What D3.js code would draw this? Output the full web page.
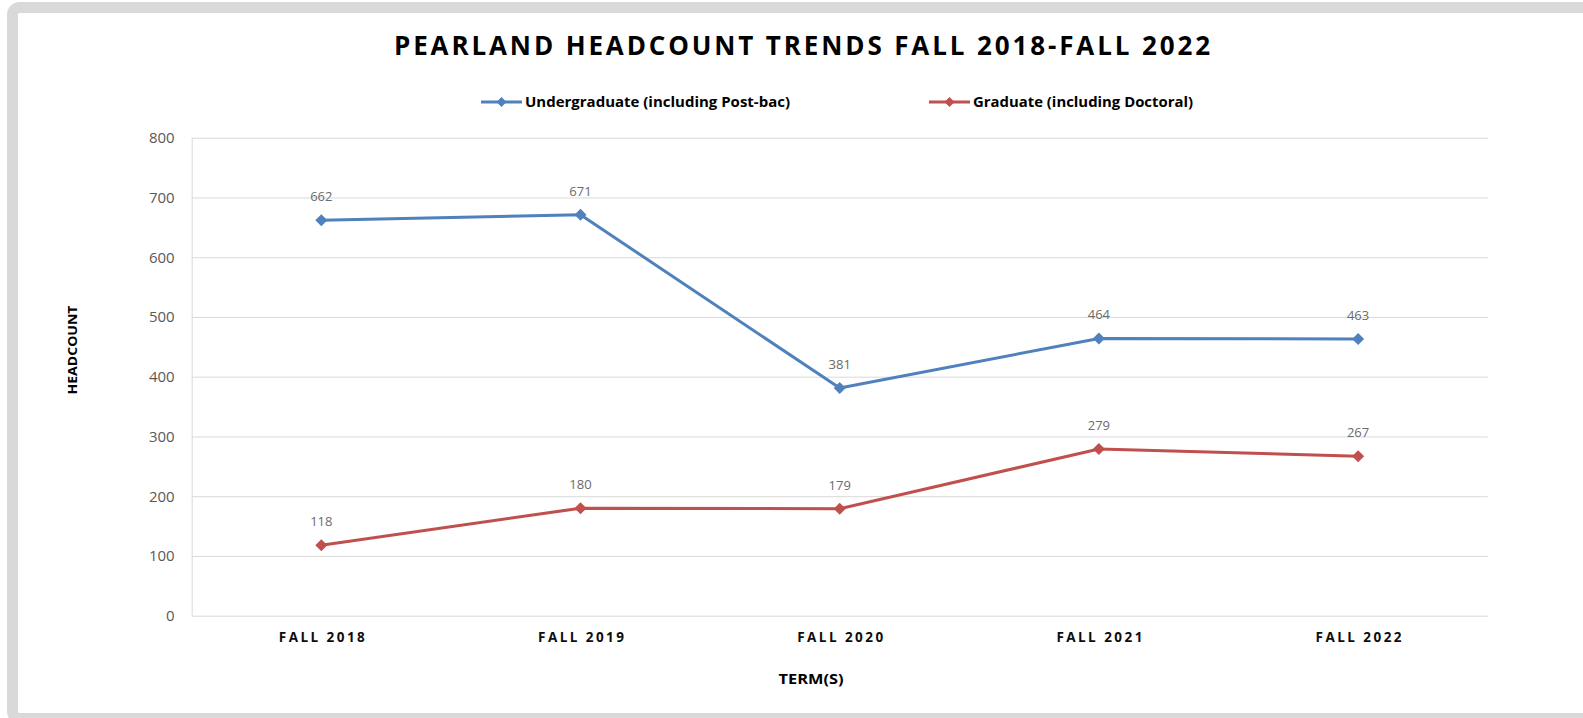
<!DOCTYPE html>
<html>
<head>
<meta charset="utf-8">
<script src="https://cdn.jsdelivr.net/npm/d3@7"></script>
<style>
  html, body { margin: 0; padding: 0; background: #ffffff; }
  svg { display: block; }
</style>
</head>
<body>
<svg id="chart" width="1583" height="718"></svg>
<script>
// chart values
var terms = ["FALL 2018", "FALL 2019", "FALL 2020", "FALL 2021", "FALL 2022"];
var undergrad = [662, 671, 381, 464, 463];
var graduate = [118, 180, 179, 279, 267];
var seriesNames = ["Undergraduate (including Post-bac)", "Graduate (including Doctoral)"];
var seriesColors = ["#4f81bd", "#c0504d"];
var yTicks = [0, 100, 200, 300, 400, 500, 600, 700, 800];

var svg = d3.select("#chart");
var font = "'Open Sans', 'DejaVu Sans', sans-serif";

// outer frame
svg.append("rect")
    .attr("x", 12.5)
    .attr("y", 7.5)
    .attr("width", 1620)
    .attr("height", 711)
    .attr("rx", 7)
    .attr("ry", 7)
    .attr("fill", "#ffffff")
    .attr("stroke", "#d9d9d9")
    .attr("stroke-width", 11);

var plot = {left: 191.7, right: 1487.7, top: 137.7, bottom: 615.7};

var x = d3.scalePoint()
    .domain(terms)
    .range([plot.left, plot.right])
    .padding(0.5);

var y = d3.scaleLinear()
    .domain([0, 800])
    .range([plot.bottom, plot.top]);

// gridlines
var yAxis = d3.axisLeft(y)
    .tickValues(yTicks)
    .tickSize(-(plot.right - plot.left))
    .tickPadding(17);

var yg = svg.append("g")
    .attr("transform", "translate(" + plot.left + ",0)")
    .call(yAxis);
yg.select(".domain").remove();
yg.selectAll(".tick line")
    .attr("stroke", "#d9d9d9")
    .attr("stroke-width", 1);
yg.selectAll(".tick text")
    .attr("fill", "#595959")
    .style("font-family", font)
    .style("font-size", "15px");

// left axis line
svg.append("line")
    .attr("x1", plot.left + 0.5)
    .attr("x2", plot.left + 0.5)
    .attr("y1", plot.top)
    .attr("y2", plot.bottom)
    .attr("stroke", "#d9d9d9")
    .attr("stroke-width", 1);

// category labels
var xAxis = d3.axisBottom(x).tickSize(0).tickPadding(0);
var xg = svg.append("g")
    .attr("transform", "translate(0," + plot.bottom + ")")
    .call(xAxis);
xg.select(".domain").remove();
xg.selectAll(".tick text")
    .attr("dy", null)
    .attr("y", 26)
    .attr("fill", "#0d0d0d")
    .attr("textLength", 86)
    .attr("lengthAdjust", "spacing")
    .style("font-family", font)
    .style("font-size", "13.5px")
    .style("font-weight", "bold");

function diamond(r) {
    return "M0," + (-r) + "L" + r + ",0L0," + r + "L" + (-r) + ",0Z";
}

var series = [undergrad, graduate];
var line = d3.line()
    .x(function (d, i) { return x(terms[i]); })
    .y(function (d) { return y(d); });

series.forEach(function (values, s) {
    var g = svg.append("g");
    g.append("path")
        .datum(values)
        .attr("d", line)
        .attr("fill", "none")
        .attr("stroke", seriesColors[s])
        .attr("stroke-width", 3)
        .attr("stroke-linejoin", "round");

    g.selectAll("path.marker")
        .data(values)
        .enter().append("path")
        .attr("class", "marker")
        .attr("d", diamond(6))
        .attr("transform", function (d, i) {
            return "translate(" + x(terms[i]) + "," + y(d) + ")";
        })
        .attr("fill", seriesColors[s]);

    g.selectAll("text")
        .data(values)
        .enter().append("text")
        .attr("x", function (d, i) { return x(terms[i]); })
        .attr("y", function (d) { return y(d) - 19; })
        .attr("text-anchor", "middle")
        .attr("fill", "#6b6b6b")
        .style("font-family", font)
        .style("font-size", "13px")
        .text(function (d) { return d; });
});

// title - narrower glyphs spread out to imitate the letter spacing
svg.append("text")
    .attr("x", 802)
    .attr("y", 55)
    .attr("text-anchor", "middle")
    .attr("textLength", 816)
    .attr("lengthAdjust", "spacing")
    .attr("fill", "#000000")
    .style("font-family", font)
    .style("font-size", "26px")
    .style("font-weight", "bold")
    .text("PEARLAND HEADCOUNT TRENDS FALL 2018-FALL 2022");

// legend
var legendItems = [
    {lx: 481, tx: 525, len: 265},
    {lx: 929, tx: 973, len: 220}
];
legendItems.forEach(function (item, s) {
    var lg = svg.append("g");
    lg.append("line")
        .attr("x1", item.lx)
        .attr("x2", item.lx + 41)
        .attr("y1", 102)
        .attr("y2", 102)
        .attr("stroke", seriesColors[s])
        .attr("stroke-width", 3);
    lg.append("path")
        .attr("d", diamond(5))
        .attr("transform", "translate(" + (item.lx + 20.5) + ",102)")
        .attr("fill", seriesColors[s]);
    lg.append("text")
        .attr("x", item.tx)
        .attr("y", 107)
        .attr("textLength", item.len)
        .attr("lengthAdjust", "spacingAndGlyphs")
        .attr("fill", "#000000")
        .style("font-family", font)
        .style("font-size", "14.5px")
        .style("font-weight", "bold")
        .text(seriesNames[s]);
});

// axis titles
svg.append("text")
    .attr("transform", "translate(77,350) rotate(-90)")
    .attr("text-anchor", "middle")
    .attr("textLength", 89)
    .attr("lengthAdjust", "spacingAndGlyphs")
    .attr("fill", "#000000")
    .style("font-family", font)
    .style("font-size", "12px")
    .style("font-weight", "bold")
    .text("HEADCOUNT");

svg.append("text")
    .attr("x", 811)
    .attr("y", 684)
    .attr("text-anchor", "middle")
    .attr("textLength", 65)
    .attr("lengthAdjust", "spacingAndGlyphs")
    .attr("fill", "#000000")
    .style("font-family", font)
    .style("font-size", "15px")
    .style("font-weight", "bold")
    .text("TERM(S)");
</script>
</body>
</html>
